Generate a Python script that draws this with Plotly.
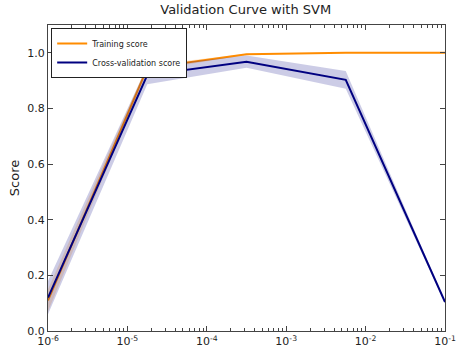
import plotly.graph_objects as go

param_range = [1e-6, 1.778e-5, 3.162e-4, 5.623e-3, 1e-1]
train_mean = [0.11, 0.945, 0.995, 1.0, 1.0]
train_std = [0.04, 0.01, 0.002, 0.0, 0.0]
cv_mean = [0.12, 0.92, 0.968, 0.903, 0.104]
cv_std = [0.06, 0.033, 0.022, 0.032, 0.004]
x_tick_vals = [1e-6, 1e-5, 1e-4, 1e-3, 1e-2, 1e-1]
x_tick_text = ["10<sup>-6</sup>", "10<sup>-5</sup>", "10<sup>-4</sup>", "10<sup>-3</sup>", "10<sup>-2</sup>", "10<sup>-1</sup>"]
x_minor_vals = [m * d for d in [1e-6, 1e-5, 1e-4, 1e-3, 1e-2] for m in range(2, 10)]

def band(mean, std):
    up = [m + s for m, s in zip(mean, std)]
    lo = [m - s for m, s in zip(mean, std)]
    return up, lo

fig = go.Figure()
tu, tl = band(train_mean, train_std)
cu, cl = band(cv_mean, cv_std)

fig.add_trace(go.Scatter(x=param_range + param_range[::-1], y=tu + tl[::-1], mode="lines", fill="toself",
                         fillcolor="rgba(255,140,0,0.2)", line=dict(width=0), showlegend=False, hoverinfo="skip"))
fig.add_trace(go.Scatter(x=param_range, y=train_mean, mode="lines", name="Training score",
                         line=dict(color="darkorange", width=2)))
fig.add_trace(go.Scatter(x=param_range + param_range[::-1], y=cu + cl[::-1], mode="lines", fill="toself",
                         fillcolor="rgba(0,0,128,0.2)", line=dict(width=0), showlegend=False, hoverinfo="skip"))
fig.add_trace(go.Scatter(x=param_range, y=cv_mean, mode="lines", name="Cross-validation score",
                         line=dict(color="navy", width=2)))

axis_common = dict(showline=True, linecolor="#444", linewidth=1, mirror="ticks", ticks="inside",
                   tickcolor="#444", showgrid=False, zeroline=False, ticklen=5, automargin=False)

fig.update_layout(
    width=468, height=356,
    margin=dict(l=48, r=23, t=25, b=25, autoexpand=False),
    paper_bgcolor="white", plot_bgcolor="white",
    font=dict(family="DejaVu Sans", size=11, color="#222"),
    title=dict(text="Validation Curve with SVM", x=0.525, xanchor="center", y=0.987, yanchor="top",
               font=dict(size=13), automargin=False),
    xaxis=dict(type="log", range=[-6, -1], tickvals=x_tick_vals, ticktext=x_tick_text,
               minor=dict(tickvals=x_minor_vals, ticks="inside", ticklen=3, tickcolor="#444"),
               **axis_common),
    yaxis=dict(range=[0, 1.1], tickvals=[0, 0.2, 0.4, 0.6, 0.8, 1.0], tickformat=".1f",
               title=dict(text="Score", standoff=4), **axis_common),
    legend=dict(x=0.008, y=0.99, xanchor="left", yanchor="top", bordercolor="#222", borderwidth=1,
                bgcolor="white", font=dict(size=8), itemwidth=30, tracegroupgap=0),
    showlegend=True,
)

fig.write_html("out.html", config={"displayModeBar": False},
               post_script="document.body.style.margin='0';")
